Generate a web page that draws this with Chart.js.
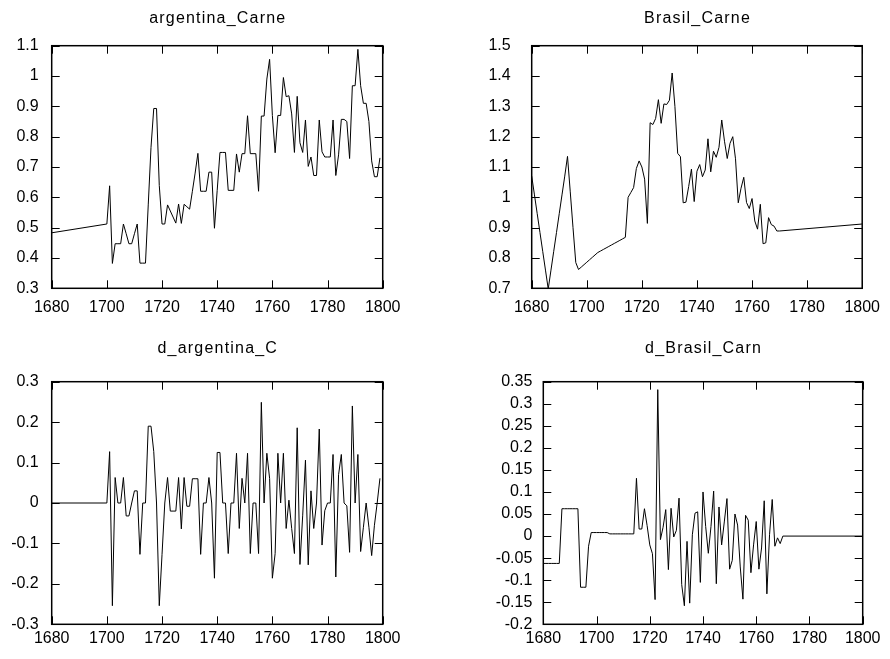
<!DOCTYPE html>
<html>
<head>
<meta charset="utf-8">
<title>Carne</title>
<script src="https://cdn.jsdelivr.net/npm/chart.js@4.4.1/dist/chart.umd.min.js"></script>
<style>
  html, body { margin: 0; padding: 0; background: #fff; }
  #page { position: relative; width: 890px; height: 659px; overflow: hidden; }
  .panel { position: absolute; }
</style>
</head>
<body>
<div id="page">
  <div class="panel" style="left:0;top:0;width:445px;height:330px"><canvas id="arg-chart"></canvas></div>
  <div class="panel" style="left:445px;top:0;width:445px;height:330px"><canvas id="bra-chart"></canvas></div>
  <div class="panel" style="left:0;top:330px;width:445px;height:329px"><canvas id="darg-chart"></canvas></div>
  <div class="panel" style="left:445px;top:330px;width:445px;height:329px"><canvas id="dbra-chart"></canvas></div>
</div>
<script>
// -------------------------------- Data -------------------------------------- //

// a. Argentina: one point at 1680, then yearly 1700-1799
const argYears = [1680,
  1700, 1701, 1702, 1703, 1704, 1705, 1706, 1707, 1708, 1709,
  1710, 1711, 1712, 1713, 1714, 1715, 1716, 1717, 1718, 1719,
  1720, 1721, 1722, 1723, 1724, 1725, 1726, 1727, 1728, 1729,
  1730, 1731, 1732, 1733, 1734, 1735, 1736, 1737, 1738, 1739,
  1740, 1741, 1742, 1743, 1744, 1745, 1746, 1747, 1748, 1749,
  1750, 1751, 1752, 1753, 1754, 1755, 1756, 1757, 1758, 1759,
  1760, 1761, 1762, 1763, 1764, 1765, 1766, 1767, 1768, 1769,
  1770, 1771, 1772, 1773, 1774, 1775, 1776, 1777, 1778, 1779,
  1780, 1781, 1782, 1783, 1784, 1785, 1786, 1787, 1788, 1789,
  1790, 1791, 1792, 1793, 1794, 1795, 1796, 1797, 1798, 1799];

const argentinaCarne = [0.483,
  0.512, 0.638, 0.382, 0.447, 0.447, 0.447, 0.512, 0.480, 0.447, 0.447,
  0.480, 0.512, 0.383, 0.383, 0.383, 0.575, 0.765, 0.893, 0.893, 0.639,
  0.512, 0.512, 0.575, 0.555, 0.535, 0.515, 0.578, 0.514, 0.577, 0.569,
  0.561, 0.620, 0.680, 0.745, 0.620, 0.620, 0.620, 0.683, 0.683, 0.498,
  0.623, 0.748, 0.748, 0.748, 0.623, 0.623, 0.623, 0.743, 0.683, 0.744,
  0.744, 0.869, 0.744, 0.744, 0.744, 0.620, 0.868, 0.868, 0.990, 1.055,
  0.870, 0.747, 0.870, 0.870, 0.995, 0.932, 0.935, 0.875, 0.748, 0.933,
  0.780, 0.748, 0.855, 0.702, 0.733, 0.672, 0.672, 0.855, 0.750, 0.733,
  0.733, 0.733, 0.855, 0.672, 0.740, 0.857, 0.857, 0.850, 0.728, 0.968,
  0.968, 1.088, 0.968, 0.910, 0.910, 0.850, 0.720, 0.668, 0.668, 0.730];

const dArgentina = [0,
  0, 0.127, -0.254, 0.063, 0, 0, 0.063, -0.032, -0.032, 0,
  0.030, 0.030, -0.127, 0, 0, 0.190, 0.190, 0.127, 0, -0.254,
  -0.127, 0, 0.063, -0.020, -0.020, -0.020, 0.063, -0.064, 0.063, -0.008,
  -0.008, 0.060, 0.060, 0.060, -0.127, 0, 0, 0.063, 0, -0.186,
  0.125, 0.125, 0, 0, -0.125, 0, 0, 0.123, -0.063, 0.061,
  0, 0.123, -0.125, 0, 0, -0.125, 0.249, 0, 0.123, 0.061,
  -0.186, -0.125, 0.123, 0, 0.123, -0.063, 0.007, -0.063, -0.125, 0.186,
  -0.152, -0.030, 0.106, -0.153, 0.030, -0.063, 0, 0.183, -0.104, -0.019,
  0, 0, 0.120, -0.183, 0.070, 0.120, 0, -0.007, -0.122, 0.240,
  0, 0.120, -0.120, -0.060, 0, -0.060, -0.130, -0.055, 0, 0.061];

// b. Brasil: yearly 1680-1770, then one point at 1800
const braYears = [
  1680, 1681, 1682, 1683, 1684, 1685, 1686, 1687, 1688, 1689,
  1690, 1691, 1692, 1693, 1694, 1695, 1696, 1697, 1698, 1699,
  1700, 1701, 1702, 1703, 1704, 1705, 1706, 1707, 1708, 1709,
  1710, 1711, 1712, 1713, 1714, 1715, 1716, 1717, 1718, 1719,
  1720, 1721, 1722, 1723, 1724, 1725, 1726, 1727, 1728, 1729,
  1730, 1731, 1732, 1733, 1734, 1735, 1736, 1737, 1738, 1739,
  1740, 1741, 1742, 1743, 1744, 1745, 1746, 1747, 1748, 1749,
  1750, 1751, 1752, 1753, 1754, 1755, 1756, 1757, 1758, 1759,
  1760, 1761, 1762, 1763, 1764, 1765, 1766, 1767, 1768, 1769,
  1770, 1800];

const brasilCarne = [
  1.070, 1.008, 0.946, 0.884, 0.822, 0.760, 0.698, 0.760, 0.822, 0.884,
  0.946, 1.008, 1.070, 1.135, 1.018, 0.900, 0.785, 0.762, 0.770, 0.778,
  0.786, 0.794, 0.802, 0.810, 0.818, 0.823, 0.828, 0.833, 0.838, 0.843,
  0.848, 0.853, 0.858, 0.863, 0.868, 1.000, 1.016, 1.032, 1.095, 1.120,
  1.100, 1.060, 0.914, 1.246, 1.240, 1.260, 1.322, 1.244, 1.308, 1.306,
  1.320, 1.410, 1.300, 1.145, 1.134, 0.982, 0.984, 1.036, 1.093, 0.986,
  1.086, 1.108, 1.068, 1.090, 1.193, 1.084, 1.152, 1.132, 1.165, 1.255,
  1.185, 1.128, 1.178, 1.200, 1.127, 0.982, 1.030, 1.066, 0.983, 0.963,
  0.996, 0.922, 0.895, 0.977, 0.847, 0.850, 0.933, 0.910, 0.905, 0.889,
  0.889, 0.912];

const dBrasil = [
  -0.062, -0.062, -0.062, -0.062, -0.062, -0.062, -0.062, 0.062, 0.062, 0.062,
  0.062, 0.062, 0.062, 0.062, -0.116, -0.116, -0.116, -0.023, 0.008, 0.008,
  0.008, 0.008, 0.008, 0.008, 0.008, 0.005, 0.005, 0.005, 0.005, 0.005,
  0.005, 0.005, 0.005, 0.005, 0.005, 0.131, 0.016, 0.016, 0.062, 0.024,
  -0.020, -0.040, -0.144, 0.332, -0.008, 0.020, 0.060, -0.076, 0.063, -0.002,
  0.013, 0.086, -0.110, -0.158, -0.012, -0.152, 0.003, 0.052, 0.055, -0.105,
  0.100, 0.022, -0.039, 0.022, 0.102, -0.108, 0.066, -0.020, 0.032, 0.085,
  -0.075, -0.055, 0.050, 0.025, -0.070, -0.143, 0.047, 0.036, -0.083, -0.020,
  0.033, -0.075, -0.027, 0.080, -0.131, 0.003, 0.083, -0.023, -0.004, -0.017,
  0, 0];

// c. Axis tick settings
const xTicks = { min: 1680, max: 1800, step: 20 };
const argTicks = { min: 0.3, max: 1.1, step: 0.1 };
const braTicks = { min: 0.7, max: 1.5, step: 0.1 };
const dArgTicks = { min: -0.3, max: 0.3, step: 0.1 };
const dBraTicks = { min: -0.2, max: 0.35, step: 0.05 };

// -------------------------------- Chart setup -------------------------------------- //

const fontFamily = "'Liberation Sans', Arial, sans-serif";
Chart.defaults.font.family = fontFamily;
Chart.defaults.font.size = 16;
Chart.defaults.color = '#000';

// frame round the plot, inward ticks on all four sides, and the panel title
const frameTicks = {
  id: 'frameTicks',
  afterDraw(chart, args, opts) {
    const { ctx, chartArea: a, scales: { x, y } } = chart;
    const len = 8;
    ctx.save();
    ctx.strokeStyle = '#000';
    ctx.lineWidth = 1;
    ctx.beginPath();
    x.ticks.forEach(t => {
      const px = Math.round(x.getPixelForValue(t.value)) + 0.5;
      ctx.moveTo(px, a.bottom); ctx.lineTo(px, a.bottom - len);
      ctx.moveTo(px, a.top); ctx.lineTo(px, a.top + len);
    });
    y.ticks.forEach(t => {
      const py = Math.round(y.getPixelForValue(t.value)) + 0.5;
      ctx.moveTo(a.left, py); ctx.lineTo(a.left + len, py);
      ctx.moveTo(a.right, py); ctx.lineTo(a.right - len, py);
    });
    ctx.stroke();
    ctx.lineWidth = 1.5;
    ctx.strokeRect(a.left, a.top, a.right - a.left, a.bottom - a.top);

    // title, centred over the plot
    ctx.fillStyle = '#000';
    ctx.font = '16px ' + fontFamily;
    ctx.letterSpacing = '1.2px';
    ctx.textAlign = 'center';
    ctx.textBaseline = 'middle';
    ctx.fillText(opts.text, (a.left + a.right) / 2 + 0.6, opts.y);
    ctx.restore();
  }
};

const fmt = v => String(Number(v.toFixed(2)));

const makePanel = (canvasId, title, years, values, yt, box) => {
  const points = years.map((yr, i) => ({ x: yr, y: values[i] }));
  return new Chart(document.getElementById(canvasId), {
    type: 'line',
    data: {
      datasets: [{
        data: points,
        borderColor: '#000',
        borderWidth: 1,
        pointRadius: 0,
        tension: 0,
        fill: false,
        clip: 0
      }]
    },
    options: {
      responsive: true,
      maintainAspectRatio: false,
      animation: false,
      events: [],
      layout: { padding: { left: 0, top: box.top, right: box.right, bottom: box.bottom } },
      scales: {
        x: {
          type: 'linear',
          min: xTicks.min,
          max: xTicks.max,
          grid: { display: false, drawTicks: false },
          border: { display: false },
          ticks: { stepSize: xTicks.step, maxRotation: 0, autoSkip: false, padding: box.xPad, callback: v => String(v) },
          afterFit: s => { s.height = 30; }
        },
        y: {
          type: 'linear',
          min: yt.min,
          max: yt.max,
          grid: { display: false, drawTicks: false },
          border: { display: false },
          ticks: { stepSize: yt.step, autoSkip: false, padding: box.gap, callback: v => fmt(v) },
          afterFit: s => { s.width = box.left; }
        }
      },
      plugins: {
        legend: { display: false },
        tooltip: { enabled: false },
        title: { display: false },
        frameTicks: { text: title, y: 19 }
      }
    },
    plugins: [frameTicks]
  });
};

// -------- 1. argentina_Carne ------------ //
makePanel('arg-chart', 'argentina_Carne', argYears, argentinaCarne, argTicks,
  { left: 51.7, top: 45.7, right: 62.3, bottom: 11.7, gap: 13, xPad: 10 });

// -------- 2. Brasil_Carne ------------ //
makePanel('bra-chart', 'Brasil_Carne', braYears, brasilCarne, braTicks,
  { left: 86.7, top: 45.7, right: 27.3, bottom: 11.7, gap: 21, xPad: 10 });

// -------- 3. d_argentina_C ------------ //
makePanel('darg-chart', 'd_argentina_C', argYears, dArgentina, dArgTicks,
  { left: 51.7, top: 51.7, right: 62.3, bottom: 4.7, gap: 13, xPad: 5 });

// -------- 4. d_Brasil_Carn ------------ //
makePanel('dbra-chart', 'd_Brasil_Carn', braYears, dBrasil, dBraTicks,
  { left: 98.3, top: 51.7, right: 27.3, bottom: 4.7, gap: 11, xPad: 5 });
</script>
</body>
</html>
